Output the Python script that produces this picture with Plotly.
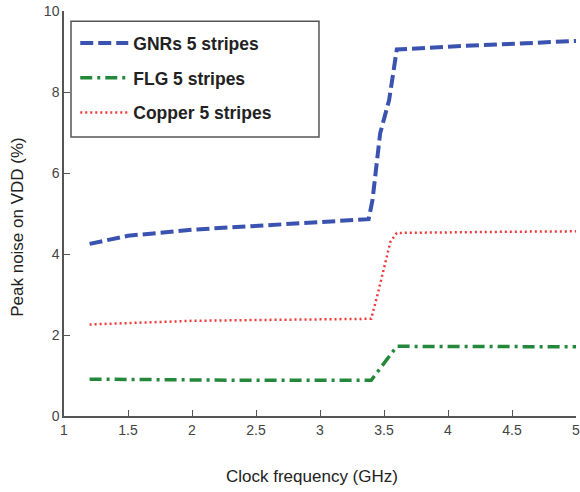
import plotly.graph_objects as go

# Data
gnr_x = [1.2, 1.5, 2.0, 2.5, 3.0, 3.38, 3.41, 3.47, 3.54, 3.59, 3.60, 4.0, 4.5, 5.0]
gnr_y = [4.25, 4.45, 4.60, 4.70, 4.80, 4.86, 5.33, 6.98, 7.80, 8.86, 9.05, 9.12, 9.20, 9.26]

flg_x = [1.2, 1.5, 2.0, 2.5, 3.0, 3.4, 3.6, 4.0, 4.5, 5.0]
flg_y = [0.91, 0.90, 0.88, 0.88, 0.88, 0.88, 1.72, 1.72, 1.71, 1.71]

cu_x = [1.2, 1.5, 2.0, 2.5, 3.0, 3.4, 3.45, 3.55, 3.6, 4.0, 4.5, 5.0]
cu_y = [2.26, 2.30, 2.35, 2.37, 2.39, 2.40, 3.0, 4.3, 4.52, 4.54, 4.55, 4.56]

x_ticks = [1, 1.5, 2, 2.5, 3, 3.5, 4, 4.5, 5]
x_ticktext = ["1", "1.5", "2", "2.5", "3", "3.5", "4", "4.5", "5"]
y_ticks = [0, 2, 4, 6, 8, 10]

fig = go.Figure()
fig.add_trace(go.Scatter(x=gnr_x, y=gnr_y, mode="lines", name="GNRs 5 stripes",
                         legendgroup="a",
                         line=dict(color="#3a52b0", width=4, dash="13px,5px")))
fig.add_trace(go.Scatter(x=flg_x, y=flg_y, mode="lines", name="FLG 5 stripes",
                         legendgroup="b",
                         line=dict(color="#24883a", width=3.5, dash="12px,5px,3px,5px")))
fig.add_trace(go.Scatter(x=cu_x, y=cu_y, mode="lines", name="Copper 5 stripes",
                         legendgroup="c",
                         line=dict(color="#f03a3a", width=2.5, dash="2px,3px")))

axis_common = dict(showline=True, linecolor="#555", linewidth=1.5, showgrid=False,
                   zeroline=False, ticks="inside", ticklen=6, tickcolor="#555",
                   ticklabeloverflow="allow", automargin=False,
                   tickfont=dict(family="Liberation Sans", size=14, color="#444"))

fig.update_layout(
    width=580, height=492,
    margin=dict(l=64, r=4, t=11, b=76),
    paper_bgcolor="white", plot_bgcolor="white",
    showlegend=True,
    legend=dict(x=0.022, y=0.965, xanchor="left", yanchor="top",
                borderwidth=0, bgcolor="rgba(0,0,0,0)", itemwidth=48,
                font=dict(family="Liberation Sans", size=17.5, color="#222", weight="bold"),
                traceorder="grouped", tracegroupgap=9),
    xaxis=dict(range=[1, 5], tickvals=x_ticks, ticktext=x_ticktext, **axis_common),
    yaxis=dict(range=[0, 10], tickvals=y_ticks, **axis_common),
    shapes=[
        dict(type="rect", xref="paper", yref="paper", x0=0.0137, x1=0.498,
             y0=0.689, y1=0.975, line=dict(color="#555", width=1.5),
             fillcolor="white", layer="below"),
    ],
    annotations=[
        dict(text="Clock frequency (GHz)", xref="paper", yref="paper", x=0.485, y=-0.15,
             xanchor="center", yanchor="middle", showarrow=False,
             font=dict(family="Liberation Sans", size=17, color="#222")),
        dict(text="Peak noise on VDD (%)", xref="paper", yref="paper", x=-0.09, y=0.467,
             xanchor="center", yanchor="middle", showarrow=False, textangle=-90,
             font=dict(family="Liberation Sans", size=17, color="#222")),
    ],
)

fig.write_html("out.html")
